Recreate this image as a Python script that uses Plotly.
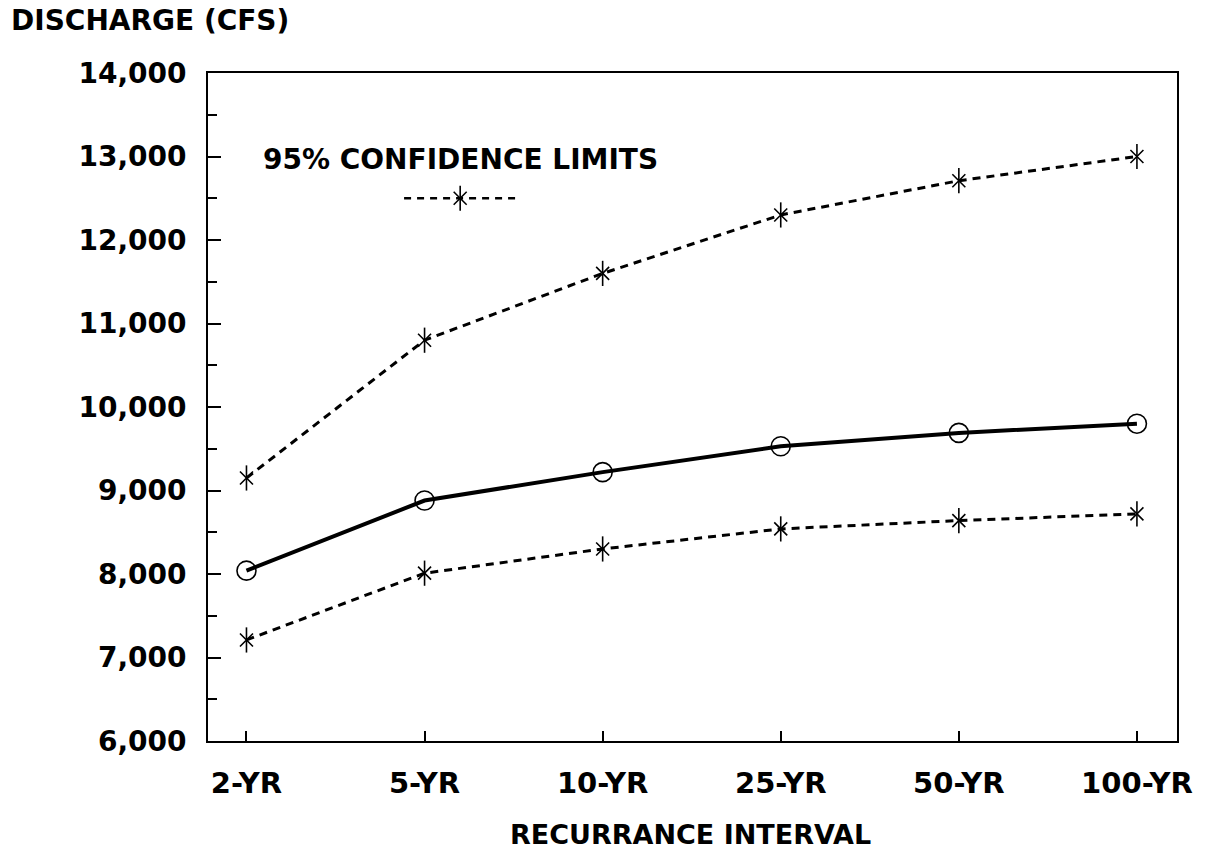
import plotly.graph_objects as go

categories = ["2-YR", "5-YR", "10-YR", "25-YR", "50-YR", "100-YR"]
discharge = [8040, 8880, 9220, 9530, 9690, 9800]
upper_95 = [9150, 10800, 11600, 12300, 12710, 13000]
lower_95 = [7210, 8010, 8300, 8540, 8640, 8720]
y_ticks = [6000, 7000, 8000, 9000, 10000, 11000, 12000, 13000, 14000]
y_tick_labels = ["6,000", "7,000", "8,000", "9,000", "10,000", "11,000", "12,000", "13,000", "14,000"]

# legend key (drawn in axis units)
key_x = [0.885, 1.525]
key_star_x = [1.2]
key_y = 12500

FONT = "DejaVu Sans"
BLACK = "#000000"
xi = list(range(len(categories)))

fig = go.Figure()


def star_trace(xs, ys):
    return [
        go.Scatter(x=xs, y=ys, mode="markers", showlegend=False, hoverinfo="skip",
                   marker=dict(symbol="x-thin-open", size=13, color=BLACK,
                               line=dict(color=BLACK, width=1.6))),
        go.Scatter(x=xs, y=ys, mode="markers", showlegend=False, hoverinfo="skip",
                   marker=dict(symbol="line-ns-open", size=18, color=BLACK,
                               line=dict(color=BLACK, width=1.6))),
    ]


for series in (upper_95, lower_95):
    fig.add_trace(go.Scatter(x=xi, y=series, mode="lines", showlegend=False,
                             line=dict(color=BLACK, width=3, dash="8px,6px")))
    for t in star_trace(xi, series):
        fig.add_trace(t)

fig.add_trace(go.Scatter(x=xi, y=discharge, mode="lines+markers", showlegend=False,
                         line=dict(color=BLACK, width=4),
                         marker=dict(symbol="circle-open", size=19, color=BLACK,
                                     line=dict(color=BLACK, width=1.6))))

# legend key
fig.add_trace(go.Scatter(x=key_x, y=[key_y, key_y], mode="lines", showlegend=False,
                         line=dict(color=BLACK, width=2.5, dash="7px,6px")))
for t in star_trace(key_star_x, [key_y]):
    fig.add_trace(t)

fig.add_annotation(text="95% CONFIDENCE LIMITS", xref="paper", yref="paper",
                   x=(261 - 208) / (1177 - 208), y=1 - (160 - 73) / (741 - 73),
                   xanchor="left", yanchor="middle", showarrow=False,
                   font=dict(family=FONT, size=28, color=BLACK, weight="bold"))

fig.add_annotation(text="DISCHARGE (CFS)", xref="paper", yref="paper",
                   x=(9 - 208) / (1177 - 208), y=1 + (73 - 21) / (741 - 73),
                   xanchor="left", yanchor="middle", showarrow=False,
                   font=dict(family=FONT, size=28, color=BLACK, weight="bold"))

fig.add_annotation(text="RECURRANCE INTERVAL", xref="paper", yref="paper",
                   x=(690 - 208) / (1177 - 208), y=-(834 - 741) / (741 - 73),
                   xanchor="center", yanchor="middle", showarrow=False,
                   font=dict(family=FONT, size=27, color=BLACK, weight="bold"))

fig.update_xaxes(range=[-0.216, 5.225], tickmode="array", tickvals=xi, ticktext=categories,
                 ticks="inside", ticklen=10, tickwidth=1.5, tickcolor=BLACK,
                 showline=True, linecolor=BLACK, linewidth=1.8, mirror=True,
                 showgrid=False, zeroline=False, ticklabelstandoff=15,
                 tickfont=dict(family=FONT, size=29, color=BLACK, weight="bold"))

fig.update_yaxes(range=[6000, 14000], tickmode="array", tickvals=y_ticks, ticktext=y_tick_labels,
                 ticks="inside", ticklen=13, tickwidth=1.5, tickcolor=BLACK,
                 minor=dict(ticks="inside", ticklen=9, tickwidth=1.5, tickcolor=BLACK,
                            dtick=500, tick0=6000, showgrid=False),
                 showline=True, linecolor=BLACK, linewidth=1.8, mirror=True,
                 showgrid=False, zeroline=False, ticklabelstandoff=14,
                 tickfont=dict(family=FONT, size=28, color=BLACK, weight="bold"))

fig.update_layout(width=1209, height=860, paper_bgcolor="white", plot_bgcolor="white",
                  margin=dict(l=208, r=32, t=73, b=119, pad=0), showlegend=False)

fig.write_html("out.html")
